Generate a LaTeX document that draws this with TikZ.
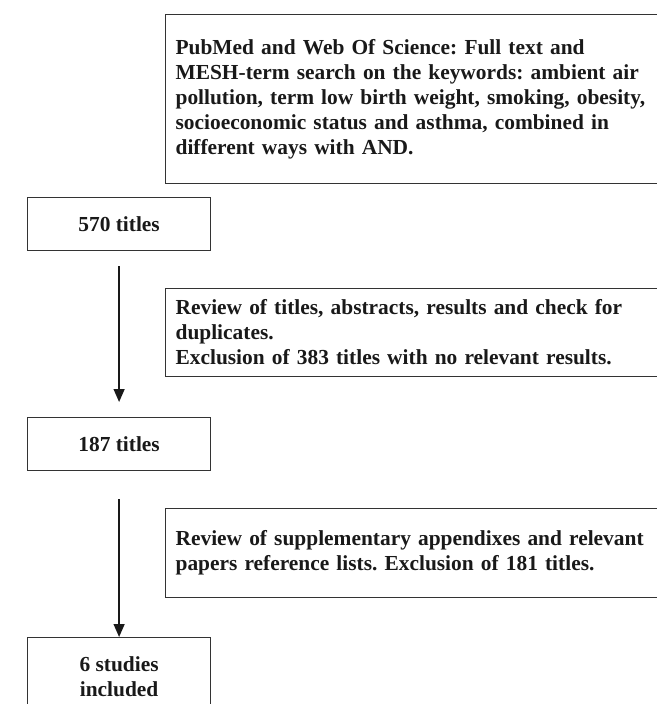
\documentclass[tikz,border=0pt]{standalone}
\usepackage{fontspec}
\setmainfont{Liberation Serif}
\usetikzlibrary{positioning,arrows.meta}

\tikzset{
  stage/.style={rectangle, draw=black!80, line width=1.2pt, minimum width=183pt, minimum height=53pt, align=center},
  note/.style={rectangle, draw=black!80, line width=1.2pt, anchor=north west, text width=515pt, inner xsep=10pt, align=left},
  flow/.style={-{Triangle[width=11pt,length=13pt]}, line width=1.4pt, black!90}
}

\begin{document}
\frenchspacing
\begin{tikzpicture}[x=1pt, y=-1pt, font=\fontsize{21.4}{25}\selectfont\bfseries, text=black!90]
  \useasboundingbox (0,0) rectangle (656,704);

  \node[note, minimum height=169pt] (search) at (165,14) {PubMed and Web Of Science: Full text and\\MESH-term search on the keywords: ambient air\\pollution, term low birth weight, smoking, obesity,\\socioeconomic status and asthma, combined in\\different ways with AND.};

  \node[stage, anchor=north west] (b570) at (27,197) {570 titles};
  \node[note, minimum height=88pt] (review1) at (165,288) {Review of titles, abstracts, results and check for\\duplicates.\\Exclusion of 383 titles with no relevant results.};
  \node[stage, anchor=north west] (b187) at (27,417) {187 titles};
  \node[note, minimum height=89pt] (review2) at (165,508) {Review of supplementary appendixes and relevant\\papers reference lists. Exclusion of 181 titles.};
  \node[stage, anchor=north west, minimum height=78pt] (b6) at (27,637) {6 studies\\included};

  \draw[flow, shorten <=15pt, shorten >=15pt] (b570) -- (b187);
  \draw[flow, shorten <=28pt] (b187) -- (b6);
\end{tikzpicture}
\end{document}
